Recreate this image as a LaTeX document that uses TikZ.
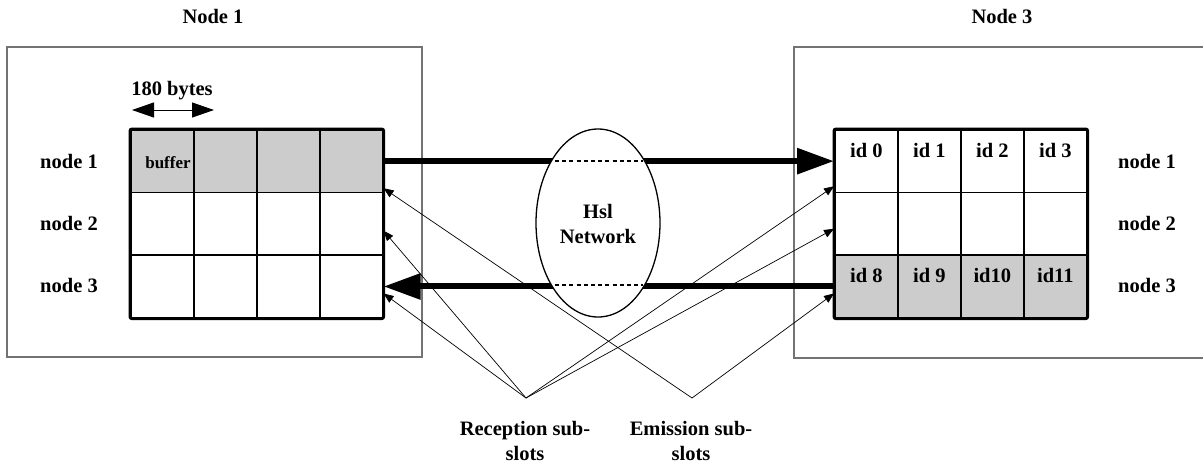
\documentclass[tikz,border=0pt]{standalone}
\usepackage{fontspec}
\setmainfont{Liberation Serif}
\usetikzlibrary{arrows.meta,shapes.geometric}
\definecolor{slotgray}{gray}{0.8}
\definecolor{framegray}{gray}{0.45}

\begin{document}
\begin{tikzpicture}[x=1pt,y=-1pt,
  every node/.style={font=\fontsize{20.5}{25}\selectfont\bfseries,inner sep=0pt},
  frame/.style={draw=framegray,line width=1.1pt},
  cell/.style={draw,line width=1.6pt,minimum width=63pt,minimum height=62.67pt,
               inner sep=0pt,anchor=north west},
  shaded/.style={fill=slotgray},
  border/.style={line width=3pt,rounded corners=2pt},
  bigarrow/.style={line width=6pt,-{Triangle[length=37pt,width=25pt]}},
  thinarrow/.style={line width=0.7pt,-{Triangle[length=10pt,width=8pt]}},
  netdash/.style={line width=1.6pt,dash pattern=on 4pt off 3.2pt},
  rowlabel/.style={anchor=base},
]
\useasboundingbox (0,0) rectangle (1203,464);

% node frames
\draw[frame] (7,47) rectangle (422,357);
\draw[frame] (1203,47) -- (794,47) -- (794,358) -- (1203,358);
\node[anchor=base] (t1) at (213,23) {Node 1};
\node[anchor=base] (t3) at (1002,23) {Node 3};

% left buffer grid (3 rows x 4 columns)
\foreach \r in {1,2,3}{
  \foreach \c in {1,2,3,4}{
    \ifnum\r=1
      \node[cell,shaded] (lc-\r-\c) at ({130+(\c-1)*63},{129+(\r-1)*62.67}) {};
    \else
      \node[cell] (lc-\r-\c) at ({130+(\c-1)*63},{129+(\r-1)*62.67}) {};
    \fi
  }
}
\draw[border] (lc-1-1.north west) rectangle (lc-3-4.south east);

% right buffer grid
\foreach \r in {1,2,3}{
  \foreach \c in {1,2,3,4}{
    \ifnum\r=3
      \node[cell,shaded] (rc-\r-\c) at ({834+(\c-1)*63},{129+(\r-1)*62.67}) {};
    \else
      \node[cell] (rc-\r-\c) at ({834+(\c-1)*63},{129+(\r-1)*62.67}) {};
    \fi
  }
}
\draw[border] (rc-1-1.north west) rectangle (rc-3-4.south east);

% cell texts
\node[anchor=base,font=\fontsize{17}{20}\selectfont\bfseries] (buf) at (168,168) {buffer};
\foreach \c/\t in {1/id 0,2/id 1,3/id 2,4/id 3}{
  \node[anchor=base] (id1-\c) at ([yshift=-28pt]rc-1-\c.north) {\t};
}
\foreach \c/\t in {1/id 8,2/id 9,3/id10,4/id11}{
  \node[anchor=base] (id3-\c) at ([yshift=-28pt]rc-3-\c.north) {\t};
}

% row labels
\node[rowlabel] (ln1) at (69,168) {node 1};
\node[rowlabel] (ln2) at (69,230) {node 2};
\node[rowlabel] (ln3) at (69,292) {node 3};
\node[rowlabel] (rn1) at (1147,168) {node 1};
\node[rowlabel] (rn2) at (1147,230) {node 2};
\node[rowlabel] (rn3) at (1147,292) {node 3};

% slot width marker
\node[anchor=base] (bytes) at (172,95) {180 bytes};
\coordinate (bw1) at (132,110);
\coordinate (bw2) at (214,110);
\draw[line width=1pt,{Triangle[length=22pt,width=15pt]}-{Triangle[length=22pt,width=15pt]}] (bw1) -- (bw2);

% links through the network
\draw[bigarrow] (lc-1-4.east) -- (rc-1-1.west);
\draw[bigarrow] (rc-3-1.west) -- (lc-3-4.east);

\node[ellipse,draw,fill=white,line width=1.3pt,minimum width=124pt,minimum height=188pt]
  (hsl) at (598,223) {};
\node[anchor=base,align=center] (hsltext) at (598,243) {Hsl\\[0pt]Network};
\coordinate (d1a) at (555,161); \coordinate (d1b) at (643,161);
\coordinate (d3a) at (555,285); \coordinate (d3b) at (643,285);
\draw[netdash] (d1a) -- (d1b);
\draw[netdash] (d3a) -- (d3b);

% sub-slot pointers
\coordinate (rec) at (526,398);
\coordinate (emi) at (692,398);
\draw[thinarrow] (rec) -- ([yshift=-7pt]lc-2-4.east);
\draw[thinarrow] (rec) -- ([yshift=-7pt]lc-3-4.east);
\draw[thinarrow] (rec) -- ([yshift=7pt]rc-1-1.south west);
\draw[thinarrow] (rec) -- ([yshift=-5pt]rc-2-1.west);
\draw[thinarrow] (emi) -- ([yshift=5pt]lc-1-4.south east);
\draw[thinarrow] (emi) -- ([yshift=-7pt]rc-3-1.west);

\node[anchor=base,align=center] (reclab) at (525,460) {Reception sub-\\[0pt]slots};
\node[anchor=base,align=center] (emilab) at (691,460) {Emission sub-\\[0pt]slots};
\end{tikzpicture}
\end{document}
